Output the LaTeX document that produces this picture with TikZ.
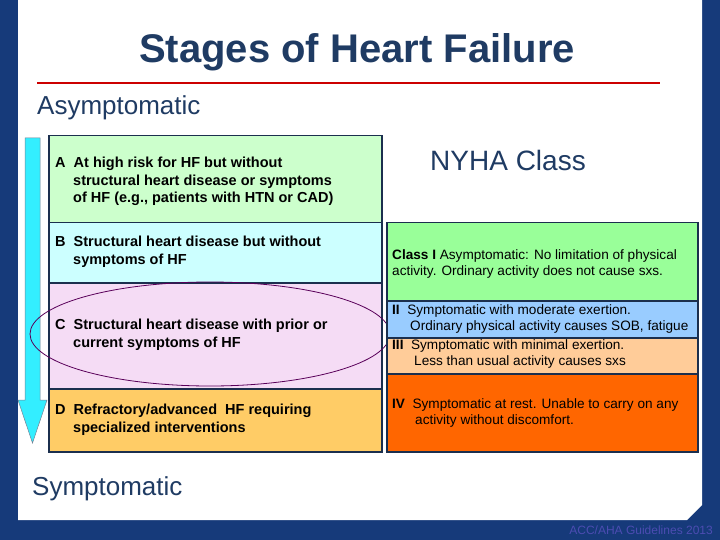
\documentclass[tikz,border=0pt]{standalone}
\usepackage{fontspec}
\setmainfont{Liberation Sans}
\begin{document}
\begin{tikzpicture}[x=1pt,y=-1pt,
  lbox/.style={draw=navy,line width=1.5pt,anchor=north west,minimum width=333pt,inner sep=0pt},
  rbox/.style={draw=navy,line width=1.5pt,anchor=north west,minimum width=311pt,inner sep=0pt},
  ltxt/.style={anchor=north west,inner sep=0pt,font=\bfseries\fontsize{14.5}{17.5}\selectfont,align=left},
  rtxt/.style={anchor=north west,inner sep=0pt,font=\fontsize{13.6}{16.5}\selectfont,align=left}]
\definecolor{navy}{HTML}{1B2F4E}
\definecolor{ttl}{HTML}{1F3B63}
\definecolor{bgblue}{HTML}{163A7A}
\definecolor{cA}{HTML}{CCFFCC}
\definecolor{cB}{HTML}{CCFFFF}
\definecolor{cC}{HTML}{F5DCF5}
\definecolor{cD}{HTML}{FFCC66}
\definecolor{c1}{HTML}{99FF99}
\definecolor{c2}{HTML}{99CCFF}
\definecolor{c3}{HTML}{FFCC99}
\definecolor{c4}{HTML}{FF6600}
\definecolor{arr}{HTML}{33EEFF}
\useasboundingbox (0,0) rectangle (720,540);
\fill[bgblue] (0,0) rectangle (720,540);
\fill[white] (18,0) -- (702,0) -- (702,505) -- (687,520) -- (18,520) -- cycle;
\node[text=ttl,font=\bfseries\fontsize{40}{44}\selectfont] (title) at (357,52) {Stages of Heart Failure};
\draw[red!80!black,line width=2.5pt] (37,83) -- (660,83);
\node[text=ttl,anchor=west,inner sep=0pt,font=\fontsize{26}{28}\selectfont] (asy) at (37,108) {Asymptomatic};
\node[text=ttl,anchor=west,inner sep=0pt,font=\fontsize{26}{28}\selectfont] (sym) at (32,489) {Symptomatic};
% arrow
\fill[arr,draw=navy!60,line width=0.5pt] (25,138) -- (40,138) -- (40,400) -- (47,400) -- (32.5,443) -- (18,400) -- (25,400) -- cycle;
% left boxes
\node[lbox,fill=cA,minimum height=87pt] (A) at (48,135) {};
\node[ltxt] (At) at (55,157) {A\ \ At high risk for HF but without\\\hspace*{18pt}structural heart disease or symptoms\\\hspace*{18pt}of HF (e.g., patients with HTN or CAD)};
\node[lbox,fill=cB,minimum height=60pt] (B) at (48,222) {};
\node[ltxt] (Bt) at (55,236) {B\ \ Structural heart disease but without\\\hspace*{18pt}symptoms of HF};
\node[lbox,fill=cC,minimum height=106pt] (C) at (48,282) {};
\node[ltxt] (Ct) at (55,319) {C\ \ Structural heart disease with prior or\\\hspace*{18pt}current symptoms of HF};
\node[lbox,fill=cD,minimum height=63pt] (D) at (48,388) {};
\node[ltxt] (Dt) at (55,404) {D\ \ Refractory/advanced\ \ HF requiring\\\hspace*{18pt}specialized interventions};
\draw[violet!70!black,line width=0.8pt] (210,334) ellipse [x radius=180,y radius=52];
% right
\node[text=ttl,font=\fontsize{28}{30}\selectfont] (nyha) at (508,160) {NYHA Class};
\node[rbox,fill=c1,minimum height=78pt] (R1) at (386,222) {};
\node[rtxt] (R1t) at (392,249) {\textbf{Class I} Asymptomatic: No limitation of physical\\activity. Ordinary activity does not cause sxs.};
\node[rbox,fill=c2,minimum height=37pt] (R2) at (386,300) {};
\node[rtxt] (R2t) at (392,304) {\textbf{II}\ \ Symptomatic with moderate exertion.\\\hspace*{18pt}Ordinary physical activity causes SOB, fatigue};
\node[rbox,fill=c3,minimum height=36pt] (R3) at (386,337) {};
\node[rtxt] (R3t) at (392,339) {\textbf{III}\ \ Symptomatic with minimal exertion.\\\hspace*{22pt}Less than usual activity causes sxs};
\node[rbox,fill=c4,minimum height=78pt] (R4) at (386,373) {};
\node[rtxt] (R4t) at (392,398) {\textbf{IV}\ \ Symptomatic at rest. Unable to carry on any\\\hspace*{23pt}activity without discomfort.};
\node[anchor=east,inner sep=0pt,text=gray!60!blue,font=\fontsize{12}{13}\selectfont] (src) at (713,530) {ACC/AHA Guidelines 2013};
\end{tikzpicture}
\end{document}
